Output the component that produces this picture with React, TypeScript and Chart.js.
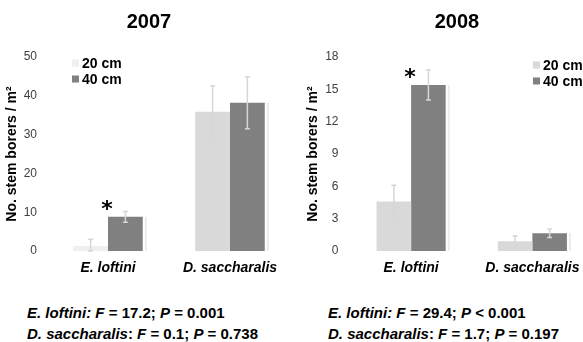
import React, { useEffect, useRef } from "react";
import { Chart, registerables } from "chart.js";

Chart.register(...registerables);

const FONT = "'Liberation Sans', Arial, Helvetica, sans-serif";
Chart.defaults.font.family = FONT;

// ---------- data ----------
const categories = ["E. loftini", "D. saccharalis"];
const depthLabels = ["20 cm", "40 cm"];
const years = ["2007", "2008"];

const mean2007cm20 = [1.3, 35.9];
const err2007cm20 = [1.7, 6.6];
const mean2007cm40 = [8.8, 38.2];
const err2007cm40 = [1.4, 6.7];
const sig2007cm40 = [true, false];
const yMax2007 = 50;
const yStep2007 = 10;

const mean2008cm20 = [4.6, 0.9];
const err2008cm20 = [1.5, 0.5];
const mean2008cm40 = [15.4, 1.65];
const err2008cm40 = [1.4, 0.4];
const sig2008cm40 = [true, false];
const yMax2008 = 18;
const yStep2008 = 3;

const fValues2007 = ["17.2", "0.1"];
const pValues2007 = ["= 0.001", "= 0.738"];
const fValues2008 = ["29.4", "1.7"];
const pValues2008 = ["< 0.001", "= 0.197"];

// ---------- plugins ----------
const shadowPlugin = {
  id: "barShadow",
  beforeDatasetsDraw(chart: any) {
    const ctx = chart.ctx;
    ctx.save();
    ctx.strokeStyle = "#ebebeb";
    ctx.lineWidth = 2;
    chart.data.datasets.forEach((_ds: any, di: number) => {
      const meta = chart.getDatasetMeta(di);
      meta.data.forEach((bar: any) => {
        const x = bar.x + bar.width / 2 + 3;
        ctx.beginPath();
        ctx.moveTo(x, bar.y);
        ctx.lineTo(x, bar.base);
        ctx.stroke();
      });
    });
    ctx.restore();
  },
};

const errorPlugin = {
  id: "errorBars",
  afterDatasetsDraw(chart: any) {
    const ctx = chart.ctx;
    const ys = chart.scales.y;
    ctx.save();
    chart.data.datasets.forEach((ds: any, di: number) => {
      const meta = chart.getDatasetMeta(di);
      meta.data.forEach((bar: any, i: number) => {
        const m = ds.data[i];
        const e = ds.errors[i];
        const yTop = ys.getPixelForValue(m + e);
        const yBot = ys.getPixelForValue(Math.max(0, m - e));
        const cap = 2.5;
        ctx.strokeStyle = "#d6d6d6";
        ctx.lineWidth = 1.5;
        ctx.beginPath();
        ctx.moveTo(bar.x, yTop);
        ctx.lineTo(bar.x, yBot);
        ctx.moveTo(bar.x - cap, yTop);
        ctx.lineTo(bar.x + cap, yTop);
        ctx.moveTo(bar.x - cap, yBot);
        ctx.lineTo(bar.x + cap, yBot);
        ctx.stroke();
        if (ds.significant && ds.significant[i]) {
          ctx.fillStyle = "#000";
          ctx.font = "bold 22px 'DejaVu Sans', sans-serif";
          ctx.textAlign = "center";
          ctx.textBaseline = "alphabetic";
          ctx.fillText("*", bar.x - bar.width / 2 - 1, bar.y - 1);
        }
      });
    });
    ctx.restore();
  },
};

const legendPlugin = {
  id: "cornerLegend",
  afterDraw(chart: any, _args: any, opts: any) {
    const ctx = chart.ctx;
    ctx.save();
    ctx.font = `bold 14px ${FONT}`;
    ctx.textBaseline = "middle";
    ctx.textAlign = "left";
    chart.data.datasets.forEach((ds: any, i: number) => {
      const y = opts.y + i * opts.gap;
      ctx.fillStyle = Array.isArray(ds.backgroundColor) ? ds.backgroundColor[0] : ds.backgroundColor;
      ctx.fillRect(opts.x, y - opts.box / 2, opts.box, opts.box);
      ctx.fillStyle = "#000";
      ctx.fillText(ds.label, opts.x + opts.box + opts.textGap, y + 1);
    });
    ctx.restore();
  },
};

type PanelProps = {
  title: string;
  m20: number[];
  e20: number[];
  m40: number[];
  e40: number[];
  sig40: boolean[];
  color20: string[];
  yMax: number;
  yStep: number;
  left: number;
  width: number;
  padLeft: number;
  axisWidth: number;
  tickPad: number;
  legendX: number;
  legendY: number;
  titleX: number;
  fVals: string[];
  pVals: string[];
  textX: number;
};

function Panel(p: PanelProps) {
  const ref = useRef<HTMLCanvasElement | null>(null);
  const height = 300;
  useEffect(() => {
    if (!ref.current) return;
    const chart = new Chart(ref.current, {
      type: "bar",
      data: {
        labels: categories,
        datasets: [
          {
            label: depthLabels[0],
            data: p.m20,
            backgroundColor: p.color20,
            borderWidth: 0,
            errors: p.e20,
            significant: [false, false],
          } as any,
          {
            label: depthLabels[1],
            data: p.m40,
            backgroundColor: ["#808080", "#808080"],
            borderWidth: 0,
            errors: p.e40,
            significant: p.sig40,
          } as any,
        ],
      },
      options: {
        animation: false,
        responsive: false,
        devicePixelRatio: 1,
        layout: { padding: { top: 57, left: p.padLeft, right: 0, bottom: 0 } },
        datasets: { bar: { categoryPercentage: 0.57, barPercentage: 1 } },
        plugins: {
          legend: { display: false },
          title: { display: false },
          tooltip: { enabled: false },
          cornerLegend: { x: p.legendX, y: p.legendY, box: 7, gap: 16, textGap: 3 },
        } as any,
        scales: {
          x: {
            grid: { display: false, drawTicks: false },
            border: { display: false },
            ticks: {
              padding: 9,
              color: "#000",
              font: { size: 14, weight: "bold", style: "italic" },
            },
            afterFit: (s: any) => {
              s.height = height - 251;
            },
          },
          y: {
            min: 0,
            max: p.yMax,
            grid: { display: false, drawTicks: false },
            border: { display: false },
            ticks: {
              stepSize: p.yStep,
              padding: p.tickPad,
              color: "#404040",
              font: { size: 12 },
            },
            title: {
              display: true,
              text: "No. stem borers / m²",
              color: "#000",
              font: { size: 14, weight: "bold" },
              padding: { top: 4, bottom: 4 },
            },
            afterFit: (s: any) => {
              s.width = p.axisWidth;
            },
          },
        },
      },
      plugins: [shadowPlugin, errorPlugin, legendPlugin],
    });
    return () => chart.destroy();
  }, []);

  const statStyle: React.CSSProperties = {
    position: "absolute",
    left: p.textX,
    top: 302,
    font: `bold 15px ${FONT}`,
    lineHeight: "21px",
    whiteSpace: "nowrap",
    color: "#000",
  };

  return (
    <>
      <canvas
        ref={ref}
        width={p.width}
        height={height}
        style={{ position: "absolute", left: p.left, top: 0, width: p.width, height }}
      />
      <div
        style={{
          position: "absolute",
          left: p.titleX - 60,
          width: 120,
          top: 9,
          textAlign: "center",
          font: `bold 20px ${FONT}`,
          lineHeight: "24px",
          color: "#000",
        }}
      >
        {p.title}
      </div>
      <div style={statStyle}>
        {categories.map((c, i) => (
          <div key={c}>
            <i>{c}</i>
            {i === 0 ? <i>:</i> : ":"} <i>F</i> = {p.fVals[i]}; <i>P</i> {p.pVals[i]}
          </div>
        ))}
      </div>
    </>
  );
}

export default function App() {
  return (
    <div
      style={{
        position: "fixed",
        left: 0,
        top: 0,
        width: 583,
        height: 342,
        overflow: "hidden",
        background: "#fff",
        fontFamily: FONT,
      }}
    >
      <Panel
        title={years[0]}
        m20={mean2007cm20}
        e20={err2007cm20}
        m40={mean2007cm40}
        e40={err2007cm40}
        sig40={sig2007cm40}
        color20={["#efefef", "#d9d9d9"]}
        yMax={yMax2007}
        yStep={yStep2007}
        left={0}
        width={291}
        padLeft={0}
        axisWidth={47}
        tickPad={10}
        legendX={72}
        legendY={63}
        titleX={149}
        fVals={fValues2007}
        pVals={pValues2007}
        textX={27}
      />
      <Panel
        title={years[1]}
        m20={mean2008cm20}
        e20={err2008cm20}
        m40={mean2008cm40}
        e40={err2008cm40}
        sig40={sig2008cm40}
        color20={["#d9d9d9", "#d9d9d9"]}
        yMax={yMax2008}
        yStep={yStep2008}
        left={291}
        width={302}
        padLeft={10}
        axisWidth={49.5}
        tickPad={12}
        legendX={242}
        legendY={65}
        titleX={457}
        fVals={fValues2008}
        pVals={pValues2008}
        textX={328}
      />
    </div>
  );
}
